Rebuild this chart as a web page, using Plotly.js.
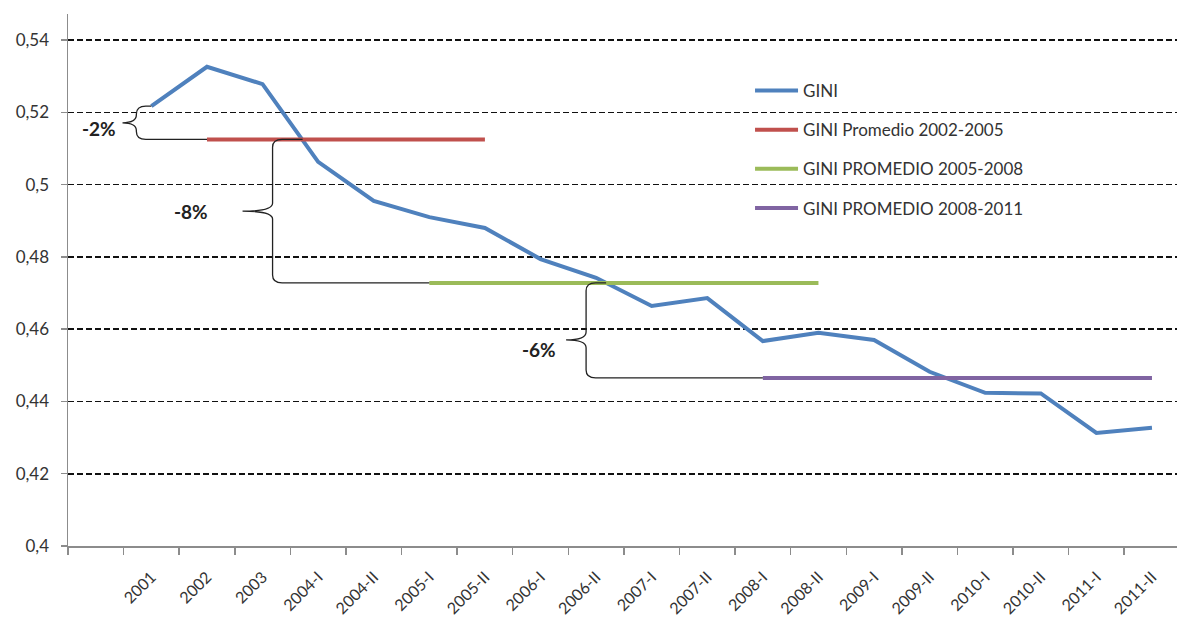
<!DOCTYPE html>
<html>
<head>
<meta charset="utf-8">
<script src="https://cdn.plot.ly/plotly-3.0.1.min.js"></script>
<style>
  html, body { margin: 0; padding: 0; background: #fff; }
  #chart { width: 1177px; height: 617px; }
</style>
</head>
<body>
<div id="chart"></div>
<script>
// ---- Data ----
const categories = ['2001','2002','2003','2004-I','2004-II','2005-I','2005-II','2006-I','2006-II',
  '2007-I','2007-II','2008-I','2008-II','2009-I','2009-II','2010-I','2010-II','2011-I','2011-II'];
const gini = [0.5217,0.5326,0.5278,0.5063,0.4955,0.4910,0.4880,0.4794,0.4742,0.4664,
  0.4686,0.4567,0.4590,0.4570,0.4482,0.4424,0.4422,0.4313,0.4327];

const seriesNames = ['GINI','GINI Promedio 2002-2005','GINI PROMEDIO 2005-2008','GINI PROMEDIO 2008-2011'];
const avgPeriods = [['2002','2005-II'], ['2005-I','2008-II'], ['2008-I','2011-II']];
const avgValues = [0.5125, 0.4728, 0.4465];

const yTickVals = [0.40,0.42,0.44,0.46,0.48,0.50,0.52,0.54];
const yTickText = ['0,4','0,42','0,44','0,46','0,48','0,5','0,52','0,54'];

const braceLabels = ['-2%','-8%','-6%'];

// ---- Build ----
const idx = c => categories.indexOf(c);
const xIdx = categories.map((c,i)=>i);
const colors = ['#4F81BD','#C0504D','#9BBB59','#8064A2'];

const traces = [{
  x: xIdx, y: gini, type:'scatter', mode:'lines', name: seriesNames[0],
  line:{color:colors[0], width:4}, legendgroup:'g0'
}];
avgPeriods.forEach((p,k)=>{
  traces.push({
    x:[idx(p[0]), idx(p[1])], y:[avgValues[k], avgValues[k]], type:'scatter', mode:'lines',
    name: seriesNames[k+1], line:{color:colors[k+1], width:4}, legendgroup:'g'+(k+1)
  });
});

// brace path in data coordinates
function brace(xv, tipX, yTop, yBot, xTopEnd, xBotEnd, tipFrac){
  const kx = 0.17, ky = 0.0022;
  const yMid = yTop - (yTop - yBot) * tipFrac;
  return `M${xTopEnd},${yTop} L${xv+kx},${yTop} Q${xv},${yTop} ${xv},${yTop-ky} ` +
    `L${xv},${yMid+ky} Q${xv},${yMid} ${tipX},${yMid} Q${xv},${yMid} ${xv},${yMid-ky} ` +
    `L${xv},${yBot+ky} Q${xv},${yBot} ${xv+kx},${yBot} L${xBotEnd},${yBot}`;
}
const braces = [
  {xv:-0.27, tip:-0.52, top:gini[0], bot:avgValues[0], topEnd:0, botEnd:idx(avgPeriods[0][0]), f:0.5},
  {xv:2.18, tip:1.64, top:avgValues[0], bot:avgValues[1], topEnd:2.72, botEnd:idx(avgPeriods[1][0]), f:0.5},
  {xv:7.82, tip:7.46, top:avgValues[1], bot:avgValues[2], topEnd:8.18, botEnd:idx(avgPeriods[2][0]), f:0.6}
];
const shapes = braces.map(b=>({
  type:'path', xref:'x', yref:'y',
  path: brace(b.xv, b.tip, b.top, b.bot, b.topEnd, b.botEnd, b.f),
  line:{color:'#222', width:1.3}
}));
const labelPos = [[-0.95, 0.5155],[0.72, 0.4925],[6.98, 0.4543]];
const annotations = braceLabels.map((t,i)=>({
  x: labelPos[i][0], y: labelPos[i][1], xref:'x', yref:'y', text: t, showarrow:false,
  font:{family:'Lato, sans-serif', size:19, color:'#222', weight:'bold'}
}));

const layout = {
  width:1177, height:617,
  margin:{l:68, r:0, t:14, b:71},
  paper_bgcolor:'#fff', plot_bgcolor:'#fff',
  showlegend:true,
  legend:{x:0.615, y:0.889, xanchor:'left', yanchor:'top', traceorder:'grouped', tracegroupgap:14,
    itemwidth:43,
    font:{family:'Lato, sans-serif', size:17, color:'#333'}, bgcolor:'rgba(0,0,0,0)'},
  xaxis:{
    type:'linear', range:[-1.5, 18.45],
    tickmode:'array', tickvals:xIdx, ticktext:categories, tickangle:-45,
    ticks:'', showgrid:false, zeroline:false,
    showline:true, linecolor:'#8c8c8c', linewidth:1.5,
    minor:{tick0:-0.5, dtick:1, ticks:'outside', ticklen:7, tickcolor:'#8c8c8c', tickwidth:1.5, showgrid:false},
    ticklabelstandoff:14,
    tickfont:{family:'Lato, sans-serif', size:16, color:'#333'}
  },
  yaxis:{
    range:[0.4, 0.5472], tickmode:'array', tickvals:yTickVals, ticktext:yTickText,
    showgrid:true, gridcolor:'#111', griddash:'6px,3px', gridwidth:1.6,
    zeroline:false, showline:true, linecolor:'#8c8c8c', linewidth:1.5,
    ticks:'outside', ticklen:6, tickcolor:'#8c8c8c', tickwidth:1.5,
    ticklabelstandoff:8,
    tickfont:{family:'Lato, sans-serif', size:17, color:'#333'}
  },
  shapes: shapes,
  annotations: annotations
};

Plotly.newPlot('chart', traces, layout, {displayModeBar:false, staticPlot:true});
</script>
</body>
</html>
